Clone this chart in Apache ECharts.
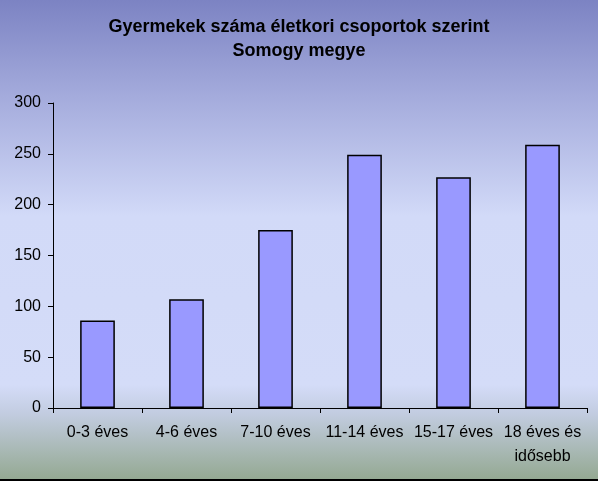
<!DOCTYPE html>
<html><head><meta charset="utf-8">
<script src="https://cdn.jsdelivr.net/npm/echarts@6/dist/echarts.min.js"></script>
<style>html,body{margin:0;padding:0;}#c{width:598px;height:481px;}</style>
</head><body><div id="c"></div>
<script>
const categories = ['0-3 éves', '4-6 éves', '7-10 éves', '11-14 éves', '15-17 éves', '18 éves és\nidősebb'];
const values = [86, 107, 175, 249, 227, 259];
const yTicks = [0, 50, 100, 150, 200, 250, 300];
const titleText = 'Gyermekek száma életkori csoportok szerint\nSomogy megye';

const chart = echarts.init(document.getElementById('c'), null, {renderer: 'canvas'});
chart.setOption({
  animation: false,
  backgroundColor: {
    type: 'linear', x: 0, y: 0, x2: 0, y2: 1,
    colorStops: [
      {offset: 0, color: '#7c83c3'},
      {offset: 0.2, color: '#a4abdc'},
      {offset: 0.45, color: '#d2daf8'},
      {offset: 0.8, color: '#d4dcf8'},
      {offset: 0.86, color: '#c2cce0'},
      {offset: 1, color: '#93a890'}
    ]
  },
  title: {
    text: titleText,
    left: 'center', top: 10,
    textStyle: {fontFamily: 'Liberation Sans', fontWeight: 'bold', fontSize: 18, color: '#000', lineHeight: 24}
  },
  grid: {left: 53, right: 11, top: 103, bottom: 73, containLabel: false},
  xAxis: {
    type: 'category', data: categories,
    axisLine: {lineStyle: {color: '#000', width: 1}},
    axisTick: {show: true, length: 5, lineStyle: {color: '#000'}},
    axisLabel: {fontFamily: 'Liberation Sans', fontSize: 16, color: '#000', margin: 13, lineHeight: 24, interval: 0}
  },
  yAxis: {
    type: 'value', min: 0, max: yTicks[yTicks.length - 1], interval: 50,
    axisLine: {show: true, lineStyle: {color: '#000', width: 1}},
    axisTick: {show: true, length: 5, lineStyle: {color: '#000'}},
    splitLine: {show: false},
    axisLabel: {fontFamily: 'Liberation Sans', fontSize: 16, color: '#000', margin: 12}
  },
  series: [{
    type: 'bar', data: values, barWidth: '39%',
    itemStyle: {color: '#9999ff', borderColor: '#000', borderWidth: 1.5}
  }],
  graphic: [{
    type: 'rect', shape: {x: 0, y: 479, width: 598, height: 2},
    style: {fill: '#000'}
  }]
});
</script></body></html>
